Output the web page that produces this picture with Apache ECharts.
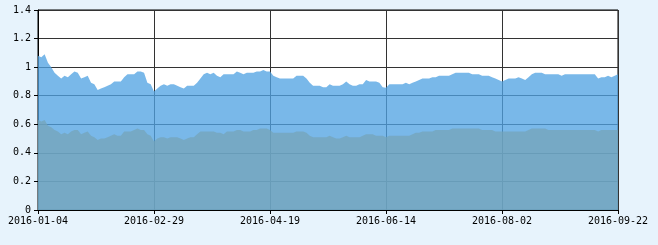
<!DOCTYPE html>
<html>
<head>
<meta charset="utf-8">
<script src="https://cdn.jsdelivr.net/npm/echarts@6/dist/echarts.min.js"></script>
<style>
html,body{margin:0;padding:0;background:#e7f3fc;}
#chart{width:658px;height:245px;}
</style>
</head>
<body>
<div id="chart"></div>
<script>
var categories = [
'2016-01-04','2016-01-05','2016-01-06','2016-01-07','2016-01-08','2016-01-11','2016-01-12','2016-01-13','2016-01-14','2016-01-15',
'2016-01-18','2016-01-19','2016-01-20','2016-01-21','2016-01-22','2016-01-25','2016-01-26','2016-01-27','2016-01-28','2016-01-29',
'2016-02-01','2016-02-02','2016-02-03','2016-02-04','2016-02-05','2016-02-15','2016-02-16','2016-02-17','2016-02-18','2016-02-19',
'2016-02-22','2016-02-23','2016-02-24','2016-02-25','2016-02-26','2016-02-29','2016-03-01','2016-03-02','2016-03-03','2016-03-04',
'2016-03-07','2016-03-08','2016-03-09','2016-03-10','2016-03-11','2016-03-14','2016-03-15','2016-03-16','2016-03-17','2016-03-18',
'2016-03-21','2016-03-22','2016-03-23','2016-03-24','2016-03-25','2016-03-28','2016-03-29','2016-03-30','2016-03-31','2016-04-01',
'2016-04-05','2016-04-06','2016-04-07','2016-04-08','2016-04-11','2016-04-12','2016-04-13','2016-04-14','2016-04-15','2016-04-18',
'2016-04-19','2016-04-20','2016-04-21','2016-04-22','2016-04-25','2016-04-26','2016-04-27','2016-04-28','2016-04-29','2016-05-04',
'2016-05-05','2016-05-06','2016-05-09','2016-05-10','2016-05-11','2016-05-12','2016-05-13','2016-05-16','2016-05-17','2016-05-18',
'2016-05-19','2016-05-20','2016-05-23','2016-05-24','2016-05-25','2016-05-26','2016-05-27','2016-05-30','2016-05-31','2016-06-01',
'2016-06-02','2016-06-03','2016-06-06','2016-06-07','2016-06-13','2016-06-14','2016-06-15','2016-06-16','2016-06-17','2016-06-20',
'2016-06-21','2016-06-22','2016-06-23','2016-06-24','2016-06-27','2016-06-28','2016-06-29','2016-06-30','2016-07-01','2016-07-04',
'2016-07-05','2016-07-06','2016-07-07','2016-07-08','2016-07-11','2016-07-12','2016-07-13','2016-07-14','2016-07-15','2016-07-18',
'2016-07-19','2016-07-20','2016-07-21','2016-07-22','2016-07-25','2016-07-26','2016-07-27','2016-07-28','2016-07-29','2016-08-01',
'2016-08-02','2016-08-03','2016-08-04','2016-08-05','2016-08-08','2016-08-09','2016-08-10','2016-08-11','2016-08-12','2016-08-15',
'2016-08-16','2016-08-17','2016-08-18','2016-08-19','2016-08-22','2016-08-23','2016-08-24','2016-08-25','2016-08-26','2016-08-29',
'2016-08-30','2016-08-31','2016-09-01','2016-09-02','2016-09-05','2016-09-06','2016-09-07','2016-09-08','2016-09-09','2016-09-12',
'2016-09-13','2016-09-14','2016-09-19','2016-09-20','2016-09-21','2016-09-22'
];

var upperSeries = [
1.08,1.07,1.09,1.03,1.00,0.96,0.94,0.92,0.94,0.93,
0.95,0.97,0.96,0.92,0.93,0.94,0.89,0.88,0.84,0.85,
0.86,0.87,0.88,0.90,0.90,0.90,0.93,0.95,0.95,0.95,
0.97,0.97,0.96,0.89,0.88,0.83,0.85,0.87,0.88,0.87,
0.88,0.88,0.87,0.86,0.85,0.87,0.87,0.87,0.89,0.92,
0.95,0.96,0.95,0.96,0.94,0.93,0.95,0.95,0.95,0.95,
0.97,0.96,0.95,0.96,0.96,0.96,0.97,0.97,0.98,0.97,
0.97,0.94,0.93,0.92,0.92,0.92,0.92,0.92,0.94,0.94,
0.94,0.92,0.89,0.87,0.87,0.87,0.86,0.86,0.88,0.87,
0.87,0.87,0.88,0.90,0.88,0.87,0.87,0.88,0.88,0.91,
0.90,0.90,0.90,0.89,0.86,0.855,0.88,0.88,0.88,0.88,
0.88,0.89,0.88,0.89,0.90,0.91,0.92,0.92,0.92,0.93,
0.93,0.94,0.94,0.94,0.94,0.95,0.96,0.96,0.96,0.96,
0.96,0.95,0.95,0.95,0.94,0.94,0.94,0.93,0.92,0.91,
0.90,0.91,0.92,0.92,0.92,0.93,0.92,0.91,0.93,0.95,
0.96,0.96,0.96,0.95,0.95,0.95,0.95,0.95,0.94,0.95,
0.95,0.95,0.95,0.95,0.95,0.95,0.95,0.95,0.95,0.92,
0.93,0.93,0.94,0.93,0.94,0.95
];

var lowerSeries = [
0.63,0.62,0.63,0.59,0.58,0.56,0.55,0.53,0.54,0.53,
0.55,0.56,0.56,0.53,0.54,0.55,0.52,0.51,0.49,0.50,
0.50,0.51,0.52,0.53,0.52,0.52,0.55,0.55,0.55,0.56,
0.57,0.56,0.56,0.53,0.52,0.48,0.50,0.51,0.51,0.50,
0.51,0.51,0.51,0.50,0.49,0.50,0.51,0.51,0.53,0.55,
0.55,0.55,0.55,0.55,0.54,0.54,0.53,0.55,0.55,0.55,
0.56,0.56,0.55,0.55,0.55,0.56,0.56,0.57,0.57,0.57,
0.56,0.54,0.54,0.54,0.54,0.54,0.54,0.54,0.55,0.55,
0.55,0.54,0.52,0.51,0.51,0.51,0.51,0.51,0.52,0.51,
0.50,0.50,0.51,0.52,0.51,0.51,0.51,0.51,0.52,0.53,
0.53,0.53,0.52,0.52,0.52,0.51,0.52,0.52,0.52,0.52,
0.52,0.52,0.52,0.53,0.54,0.54,0.55,0.55,0.55,0.55,
0.56,0.56,0.56,0.56,0.56,0.57,0.57,0.57,0.57,0.57,
0.57,0.57,0.57,0.57,0.56,0.56,0.56,0.56,0.55,0.55,
0.55,0.55,0.55,0.55,0.55,0.55,0.55,0.55,0.56,0.57,
0.57,0.57,0.57,0.57,0.56,0.56,0.56,0.56,0.56,0.56,
0.56,0.56,0.56,0.56,0.56,0.56,0.56,0.56,0.56,0.55,
0.56,0.56,0.56,0.56,0.56,0.56
];

var yTicks = { min: 0, max: 1.4, step: 0.2 };

var chart = echarts.init(document.getElementById('chart'), null, { renderer: 'canvas' });
var font = 'DejaVu Sans Mono';
chart.setOption({
  animation: false,
  backgroundColor: '#e7f3fc',
  grid: {
    left: 38, right: 40, top: 10, bottom: 35,
    show: true, backgroundColor: '#ffffff', borderColor: '#000000', borderWidth: 1
  },
  xAxis: {
    type: 'category',
    data: categories,
    boundaryGap: false,
    axisLine: { show: true, lineStyle: { color: '#000', width: 1 } },
    axisTick: { show: true, interval: 34, length: 4, lineStyle: { color: '#000' } },
    axisLabel: { interval: 34, margin: 6, color: '#000', fontFamily: font, fontSize: 10 },
    splitLine: { show: true, interval: 34, lineStyle: { color: '#333', width: 1 } }
  },
  yAxis: {
    type: 'value',
    min: yTicks.min, max: yTicks.max, interval: yTicks.step,
    axisLine: { show: true, lineStyle: { color: '#000', width: 1 } },
    axisTick: { show: true, length: 4, lineStyle: { color: '#000' } },
    axisLabel: { margin: 7, color: '#000', fontFamily: font, fontSize: 10 },
    splitLine: { show: true, lineStyle: { color: '#333', width: 1 } }
  },
  series: [
    {
      type: 'line', data: upperSeries, symbol: 'none', showSymbol: false,
      lineStyle: { width: 0 },
      areaStyle: { color: 'rgb(81,162,227)', opacity: 0.77 }
    },
    {
      type: 'line', data: lowerSeries, symbol: 'none', showSymbol: false,
      lineStyle: { width: 0 },
      areaStyle: { color: 'rgb(116,164,183)', opacity: 0.72 }
    }
  ]
});
</script>
</body>
</html>
